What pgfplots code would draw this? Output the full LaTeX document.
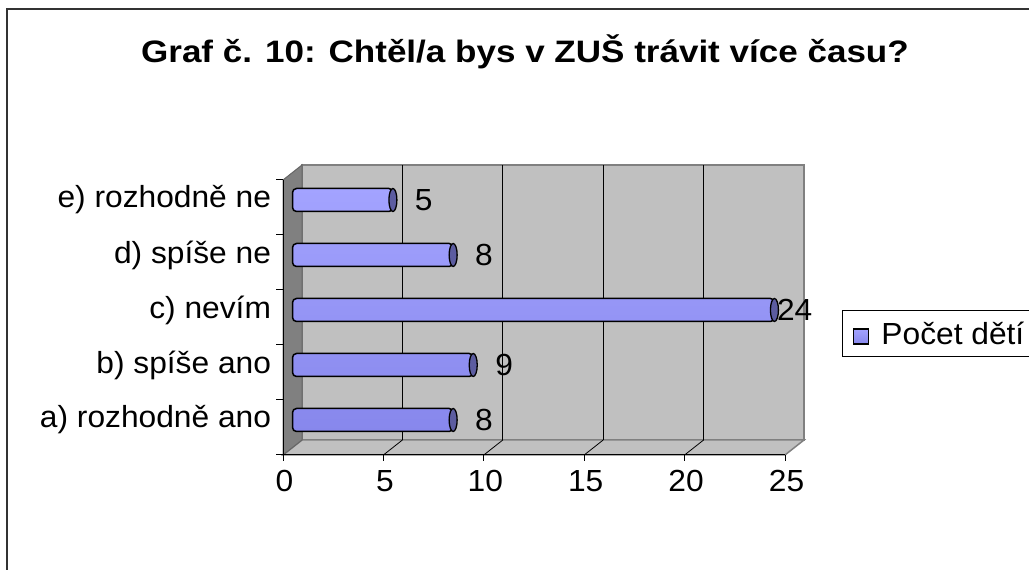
\documentclass[border=0pt]{standalone}
\usepackage{pgfplots}
\pgfplotsset{compat=1.18}
\usepackage{fontspec}
\setmainfont{Liberation Sans}
\newfontfamily\labfont[FakeStretch=1.04]{Liberation Sans}
\newfontfamily\titfont[FakeStretch=1.13]{Liberation Sans}
\newcommand\lab{\labfont\fontsize{30.5bp}{36bp}\selectfont}
\newcommand\tit{\titfont\bfseries\fontsize{31bp}{36bp}\selectfont}
\definecolor{barblue}{HTML}{9999FF}
\definecolor{bartop}{HTML}{A3A3FF}
\definecolor{barbot}{HTML}{8787EC}
\definecolor{capcol}{HTML}{5C5CA0}
\definecolor{wallgray}{HTML}{808080}
\definecolor{planegray}{HTML}{C0C0C0}
\pgfdeclareplotmark{cyl}{%
  \pgfpathellipse{\pgfpointorigin}{\pgfqpoint{4bp}{0bp}}{\pgfqpoint{0bp}{11.5bp}}%
  \pgfusepathqfillstroke}
\begin{document}
\begin{tikzpicture}[x=1bp,y=1bp]
\draw[line width=1.5bp, black!80] (7,561) rectangle (1100,-30);
\node[anchor=base, font=\tit, inner sep=0pt] at (525,507) {Graf č. 10: Chtěl/a bys v ZUŠ trávit více času?};
\begin{axis}[
  at={(283bp,115bp)}, anchor=south west,
  scale only axis, width=502bp, height=275bp,
  xmin=0, xmax=25, ymin=0, ymax=5,
  clip=false, set layers,
  axis x line*=bottom, axis y line*=left,
  axis line style={black, line width=1bp, -},
  xtick={0,5,...,25},
  ytick={0.5,1.5,2.5,3.5,4.5},
  yticklabels={a) rozhodně ano, b) spíše ano, c) nevím, d) spíše ne, e) rozhodně ne},
  minor ytick={0,1,...,5},
  tick align=outside,
  major tick length=6bp, minor tick length=7bp,
  major y tick style={draw=none},
  every tick/.style={black, line width=1bp},
  /pgf/number format/assume math mode=true,
  ticklabel style={font=\lab},
  yticklabel style={yshift=7.5bp, xshift=-2.5bp},
  xticklabel style={yshift=-6bp, xshift=1.5bp},
  legend style={at={(1.1135,0.527)}, anchor=north west, draw=black, line width=1bp,
     fill=white, font=\lab, inner xsep=6bp, inner ysep=9bp},
  legend image code/.code={\path[draw=none, fill=none, shade=false] (0bp,0bp) -- (31bp,0bp);
     \path[draw=black, fill=barblue, line width=1.2bp, rounded corners=0pt] (5bp,-18bp) rectangle (20bp,-3bp);},
]
\begin{pgfonlayer}{axis background}
  \draw[fill=planegray, draw=wallgray, line width=1.5bp]
     ([shift={(19bp,15bp)}]axis cs:0,0) rectangle ([shift={(19bp,15bp)}]axis cs:25,5);
  \draw[fill=planegray, draw=wallgray, line width=1.5bp]
     (axis cs:0,0) -- (axis cs:25,0) -- ([shift={(19bp,15bp)}]axis cs:25,0) -- ([shift={(19bp,15bp)}]axis cs:0,0) -- cycle;
  \pgfplotsinvokeforeach{5,10,15,20}{
    \draw[black, line width=0.8bp] ([shift={(19bp,15bp)}]axis cs:#1,0) -- ([shift={(19bp,15bp)}]axis cs:#1,5);
    \draw[black, line width=0.8bp] (axis cs:#1,0) -- ([shift={(19bp,15bp)}]axis cs:#1,0);
  }
  \draw[fill=wallgray, draw=wallgray!80!black, line width=1bp]
     (axis cs:0,0) -- (axis cs:0,5) -- ([shift={(19bp,15bp)}]axis cs:0,5) -- ([shift={(19bp,15bp)}]axis cs:0,0) -- cycle;
\end{pgfonlayer}
\addplot[xbar, bar width=23bp, bar shift=0pt, xshift=9.5bp, yshift=7.5bp,
   draw=black, line width=1.5bp, top color=bartop, bottom color=barbot, rounded corners=4bp,
   mark=cyl, mark options={fill=capcol, draw=black, line width=1.3bp, rounded corners=0pt},
   visualization depends on={rawx \as \rawx},
   nodes near coords,
   nodes near coords style={font=\lab, anchor=west, inner sep=0pt, text=black,
      xshift={ifthenelse(\rawx>20,2,21.5)}},
] coordinates {
  (8,0.5)
  (9,1.5)
  (24,2.5)
  (8,3.5)
  (5,4.5)
};
\addlegendentry{Počet dětí}
\end{axis}
\pgfresetboundingbox
\path[use as bounding box] (0,0) rectangle (1029,570);
\end{tikzpicture}
\end{document}
